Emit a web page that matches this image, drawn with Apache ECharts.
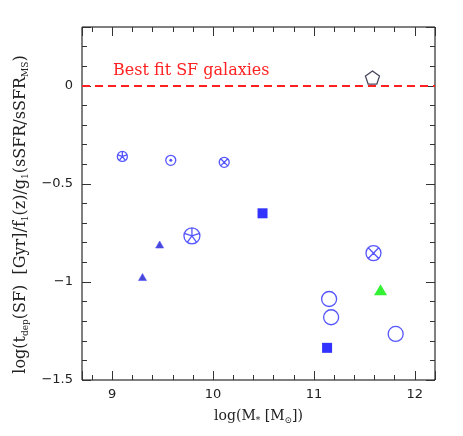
<!DOCTYPE html>
<html><head><meta charset="utf-8">
<script src="https://cdn.jsdelivr.net/npm/echarts@6/dist/echarts.min.js"></script>
<style>html,body{margin:0;padding:0;background:#fff}#c{width:463px;height:436px}</style>
</head><body><div id="c"></div>
<script>
// ---- data (log M*, log t_dep ratio) ----
const xCircStarSmall = [9.10];  const yCircStarSmall = [-0.36];
const xCircDot = [9.58];        const yCircDot = [-0.38];
const xCircCrossSmall = [10.11];const yCircCrossSmall = [-0.39];
const xSquare = [10.49, 11.13]; const ySquare = [-0.65, -1.336];
const xCircStarBig = [9.79];    const yCircStarBig = [-0.765];
const xTriSmall = [9.30, 9.47]; const yTriSmall = [-0.975, -0.809];
const xCircCrossBig = [11.59];  const yCircCrossBig = [-0.853];
const xOpenCircle = [11.15, 11.17, 11.81]; const yOpenCircle = [-1.087, -1.18, -1.265];
const xGreenTri = [11.66];      const yGreenTri = [-1.04];
const xPentagon = [11.58];      const yPentagon = [0.042];
const bestFitLevel = 0;
const xTickLabels = [9, 10, 11, 12];
const yTickLabels = [0, -0.5, -1, -1.5];
const fitLabel = 'Best fit SF galaxies';

const X_MIN = 8.7, X_MAX = 12.2, Y_MIN = -1.5, Y_MAX = 0.3;
const zip = (xs, ys) => xs.map((x, i) => [x, ys[i]]);

const BLUE = '#2a2aff';
const CIRC = 'M0,10A10,10 0 1 1 20,10A10,10 0 1 1 0,10Z';
const P_STAR = 'path://' + CIRC + 'M10,10L10,0M10,10L19.51,6.91M10,10L15.88,18.09M10,10L4.12,18.09M10,10L0.49,6.91';
const P_CROSS = 'path://' + CIRC + 'M2.93,2.93L17.07,17.07M17.07,2.93L2.93,17.07';
const P_CIRC = 'path://' + CIRC;
const P_PENT = 'path://M10,0L19.51,6.91L15.88,18.09L4.12,18.09L0.49,6.91Z';

const openStyle = {color: 'rgba(0,0,0,0)', borderColor: BLUE, borderWidth: 1.3};
const near = (v, arr) => arr.some(a => Math.abs(a - v) < 1e-6);
const fmt = v => v === 0 ? '0' : String(v).replace('-', '\u2212');

const tickStyle = {color: '#333', width: 1};
function xAx(pos, major, labels) {
  return {
    type: 'value', position: pos, min: X_MIN, max: X_MAX,
    minInterval: major ? 1 : 0.2, maxInterval: major ? 1 : 0.2, splitNumber: major ? 3 : 15,
    axisLine: {show: false, onZero: false}, splitLine: {show: false},
    axisTick: {inside: true, length: major ? 9 : 5, lineStyle: tickStyle},
    axisLabel: labels ? {
      show: true, margin: 8, fontSize: 13, fontFamily: 'DejaVu Sans', color: '#222',
      showMinLabel: true, showMaxLabel: true,
      formatter: v => near(v, xTickLabels) ? String(Math.round(v)) : ''
    } : {show: false},
    name: labels ? '{n|log(M}{s|*}{n| [M}{s|\u2299}{n|])}' : '',
    nameLocation: 'middle', nameGap: 27,
    nameTextStyle: {
      color: '#222', fontFamily: 'DejaVu Serif', fontSize: 14,
      rich: {
        n: {fontFamily: 'DejaVu Serif', fontSize: 14, color: '#222', lineHeight: 18},
        s: {fontFamily: 'DejaVu Serif', fontSize: 9, color: '#222', lineHeight: 10, verticalAlign: 'bottom'}
      }
    }
  };
}
function yAx(pos, major, labels) {
  return {
    type: 'value', position: pos, min: Y_MIN, max: Y_MAX,
    interval: major ? 0.5 : 0.1,
    axisLine: {show: false, onZero: false}, splitLine: {show: false},
    axisTick: {inside: true, length: major ? 9 : 5, lineStyle: tickStyle},
    axisLabel: labels ? {
      show: true, margin: 9, fontSize: 13, fontFamily: 'DejaVu Sans', color: '#222',
      showMinLabel: true, showMaxLabel: true,
      formatter: v => near(v, yTickLabels) ? fmt(Math.round(v * 10) / 10) : ''
    } : {show: false},
    name: labels ? '{n|log(t}{s|dep}{n|(SF)  [Gyr]/f}{s|1}{n|(z)/g}{s|1}{n|(sSFR/sSFR}{s|MS}{n|)}' : '',
    nameLocation: 'middle', nameRotate: 90, nameGap: 50,
    nameTextStyle: {
      color: '#222', fontFamily: 'DejaVu Serif', fontSize: 16,
      padding: [0, 22, 0, 0],
      rich: {
        n: {fontFamily: 'DejaVu Serif', fontSize: 16, color: '#222', lineHeight: 20},
        s: {fontFamily: 'DejaVu Serif', fontSize: 9, color: '#222', lineHeight: 10, verticalAlign: 'bottom'}
      }
    }
  };
}

const chart = echarts.init(document.getElementById('c'), null, {renderer: 'canvas'});
const sc = (data, symbol, size, style, extra) => Object.assign({
  type: 'scatter', data, symbol, symbolSize: size, itemStyle: style,
  xAxisIndex: 0, yAxisIndex: 0, silent: true, z: 5
}, extra || {});

chart.setOption({
  animation: false,
  backgroundColor: '#fff',
  grid: {left: 82, right: 28, top: 27, bottom: 56, show: true, borderColor: '#000', borderWidth: 1, backgroundColor: 'transparent'},
  xAxis: [xAx('bottom', true, true), xAx('bottom', false, false), xAx('top', true, false), xAx('top', false, false)],
  yAxis: [yAx('left', true, true), yAx('left', false, false), yAx('right', true, false), yAx('right', false, false)],
  graphic: [{
    type: 'text', left: 113, top: 63, z: 10,
    style: {text: fitLabel, fill: '#ff2222', font: '16px "DejaVu Serif"'}
  }],
  series: [
    sc(zip(xPentagon, yPentagon), P_PENT, [14, 13], {color: 'rgba(0,0,0,0)', borderColor: '#1c1c38', borderWidth: 1.3}, {
      markLine: {
        silent: true, symbol: ['none', 'none'], label: {show: false},
        lineStyle: {color: '#ff2020', type: [8, 5], width: 2},
        data: [{yAxis: bestFitLevel}]
      }
    }),
    sc(zip(xCircStarSmall, yCircStarSmall), P_STAR, 10, openStyle),
    sc(zip(xCircStarBig, yCircStarBig), P_STAR, 16, openStyle),
    sc(zip(xCircDot, yCircDot), P_CIRC, 10, openStyle),
    sc(zip(xCircDot, yCircDot), 'circle', 3, {color: BLUE}),
    sc(zip(xCircCrossSmall, yCircCrossSmall), P_CROSS, 10, openStyle),
    sc(zip(xCircCrossBig, yCircCrossBig), P_CROSS, 15, openStyle),
    sc(zip(xOpenCircle, yOpenCircle), P_CIRC, 15, openStyle),
    sc(zip(xSquare, ySquare), 'rect', 10, {color: '#0000ff'}),
    sc(zip(xTriSmall, yTriSmall), 'triangle', [8, 7], {color: '#1a1acc', borderColor: '#5555ff', borderWidth: 0.8}),
    sc(zip(xGreenTri, yGreenTri), 'triangle', [13, 11], {color: '#00ee00'})
  ]
});
</script></body></html>
